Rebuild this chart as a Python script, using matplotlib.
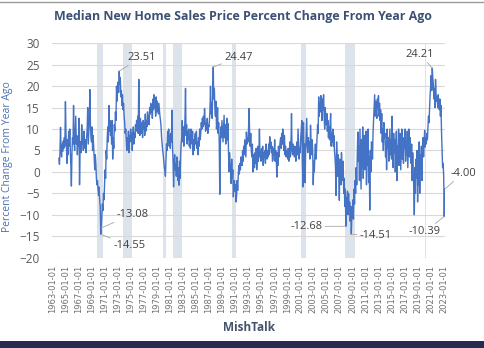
import numpy as np
import pandas as pd
import matplotlib
matplotlib.use('Agg')
import matplotlib.pyplot as plt

plt.rcParams['font.family'] = ['Open Sans', 'DejaVu Sans']

# monthly year-over-year % change, Jan 1964 .. Mar 2023
v1960s = [
    3.2, 1.8, 4.5, 10.4, 5.0, 3.5, 6.5, 4.8, 7.2, 5.5, 8.0, 6.0,
    16.4, 9.0, 5.5, 2.0, 7.5, 4.0, 9.5, 6.0, 10.0, 5.0, 1.5, -3.3,
    4.5, 8.0, 6.5, 15.5, 7.0, 5.0, 9.0, 13.0, 6.5, 8.5, 4.0, 7.5,
    6.0, 12.5, -3.0, 5.5, 7.0, 4.5, 11.0, 6.5, 8.0, 5.0, 9.5, 7.0,
    5.5, 7.5, 4.5, 8.0, 10.0, 15.0, 6.5, 9.0, 12.0, 19.2, 11.0, 8.0,
    7.0, 10.5, 5.0, 8.5, 6.0, 3.0, 0.5, 4.0, 2.0, -1.5, -3.0, -2.0,
]
v1970s = [
    -4.0, -5.5, -3.5, -6.5, -8.0, -14.55, -13.08, -10.0, -7.5, -9.0, -5.0, -6.5,
    -3.0, 0.5, -1.5, 5.0, 3.0, 8.0, 10.5, 7.0, 15.5, 9.5, 12.0, 8.5,
    10.0, 6.5, 12.0, 3.0, 8.0, 5.5, 11.0, 9.5, 14.0, 12.0, 20.0, 16.5,
    19.5, 21.0, 18.5, 23.51, 20.5, 22.0, 17.5, 19.0, 15.5, 18.0, 14.5, 16.0,
    13.0, 11.5, 9.0, 10.0, 7.5, 5.0, 8.0, 6.0, 9.5, 4.5, 8.5, 7.0,
    10.0, 7.5, 9.0, 5.0, 8.5, 10.5, 6.5, 9.0, 8.0, 11.0, 9.5, 12.0,
    10.5, 13.0, 9.0, 21.6, 11.0, 8.5, 12.5, 10.0, 9.0, 11.5, 8.0, 12.0,
    10.0, 11.5, 8.5, 13.5, 9.5, 12.0, 10.5, 14.0, 12.5, 13.0, 11.0, 15.0,
    13.5, 16.0, 14.0, 15.5, 12.5, 17.0, 14.5, 18.0, 15.0, 16.5, 13.0, 17.5,
    14.0, 16.5, 15.0, 13.5, 16.0, 14.5, 13.0, 12.0, 10.5, 8.0, 6.5, 5.0,
]
v1980s = [
    4.0, 2.5, 1.0, 0.5, -1.0, 3.0, 6.5, 5.0, 9.5, 7.0, 10.0, 6.0,
    8.5, 5.5, 9.0, 7.0, 14.4, 6.0, 3.0, -3.5, 1.5, 4.0, 0.5, 2.0,
    -1.0, 3.5, 0.5, -2.0, 1.0, -3.1, 2.5, -1.5, 4.0, 6.5, 8.0, 12.0,
    7.0, 10.5, 6.0, 9.0, 12.0, 19.5, 8.5, 11.0, 6.5, 9.5, 7.5, 10.0,
    6.0, 8.5, 5.5, 10.0, 7.0, 6.5, 9.5, 4.0, 7.5, 5.0, 8.0, 9.0,
    6.5, 9.5, 5.5, 7.0, 4.0, 8.0, 6.0, 10.0, 7.5, 9.0, 11.5, 10.0,
    12.5, 10.5, 13.0, 11.0, 14.8, 12.0, 9.5, 11.5, 10.0, 12.5, 9.0, 11.0,
    10.5, 12.0, 14.5, 20.0, 13.5, 16.0, 12.5, 18.0, 24.47, 17.0, 19.5, 15.0,
    13.0, 16.5, 10.0, 12.0, 15.0, 9.0, 11.5, 7.0, -5.2, 6.0, 10.5, 8.0,
    12.0, 9.5, 7.0, 10.5, 13.2, 8.0, 11.0, 6.5, 9.0, 12.5, 7.5, 11.3,
]
v1990s = [
    5.0, 0.0, 4.5, 2.0, 1.0, -2.7, 3.0, -1.5, 0.5, -5.8, -3.5, -2.0,
    -4.5, -3.0, -7.0, -5.5, -2.0, -4.3, -1.0, 1.5, -0.5, 2.0, 0.5, 3.5,
    3.0, 1.5, 5.0, 2.5, 6.0, 4.0, 7.5, 5.5, 3.5, 9.3, 6.5, 8.0,
    7.0, 10.5, 14.8, 8.5, 6.0, 9.0, 5.0, 3.5, 6.5, 0.0, 4.0, 2.5,
    1.0, 4.5, 2.0, 5.5, 0.5, 3.0, 6.0, 2.5, 4.0, 10.0, 3.5, 5.0,
    2.5, 5.5, 3.0, 6.0, 1.5, 4.5, 3.5, 5.0, 2.0, 6.5, 4.0, 3.0,
    5.0, 3.5, 6.5, 4.0, 8.2, 5.5, 7.0, 4.5, 6.0, 2.5, 3.0, 5.5,
    4.0, 7.5, 2.5, 5.0, 3.0, -1.2, 4.5, 1.5, 6.0, 3.5, 5.5, 7.0,
    8.0, 5.5, 9.0, 6.5, 10.0, 7.0, 5.0, 8.5, 4.0, 6.0, 3.5, 5.0,
    4.5, 3.0, 5.5, 2.5, 4.0, 7.0, 3.5, 6.0, 13.6, 5.0, 4.0, 6.5,
]
v2000s = [
    5.0, 3.5, 6.0, 4.5, 2.5, 5.5, 7.0, 4.0, 10.0, 6.5, 3.0, 5.5,
    4.5, 8.0, 10.0, 12.0, 3.0, -3.5, 11.5, 2.0, 6.5, -2.5, 5.0, 8.5,
    12.5, 6.0, 4.5, 8.0, 5.5, 7.0, 3.0, 10.9, 6.5, 4.0, 7.5, 5.0,
    -3.0, 2.5, 0.0, 4.0, 6.5, 3.0, 5.0, 8.0, 11.0, 9.0, 17.5, 13.0,
    16.0, 14.0, 17.8, 15.5, 12.0, 17.0, 14.5, 18.0, 13.0, 10.0, 15.0, 12.5,
    11.0, 13.6, 9.5, 12.0, 8.0, 10.5, 7.5, 11.0, 13.6, 6.0, 9.0, 7.0,
    10.0, 6.0, 8.5, 5.0, 3.5, 1.0, -5.5, 7.0, 2.0, -1.0, 4.0, 0.5,
    -6.6, 3.0, 1.0, -3.0, 4.5, 0.0, -2.0, 2.5, -5.0, -1.5, -8.0, -4.0,
    -12.68, -6.0, -8.5, -4.5, -10.0, -5.0, -9.0, -7.0, -11.5, -8.0, -14.51, -10.5,
    -9.0, -6.5, -11.0, -4.0, -7.5, -2.0, -5.0, 1.0, -3.0, 4.0, 9.3, 2.5,
]
v2010s = [
    6.0, -2.0, 10.0, 3.5, -4.0, 7.5, 1.0, 10.5, -1.5, 5.0, 8.5, 0.5,
    4.0, 9.5, -3.0, 6.0, 1.5, 10.0, -2.5, 3.5, -8.9, 5.0, 0.0, 7.0,
    6.5, 3.0, 9.0, 12.0, 15.0, 18.0, 13.0, 16.5, 14.0, 12.5, 17.0, 15.0,
    17.8, 13.0, 16.0, 12.0, 14.5, 9.0, 13.6, 7.0, 10.0, 5.0, 11.5, 8.0,
    9.0, 3.5, 7.0, 0.5, 10.0, 5.5, 8.0, 2.5, 6.5, 10.0, 4.0, 7.5,
    3.0, 13.0, 6.0, 1.0, 9.0, 4.5, 7.5, 0.0, 5.5, 9.5, -2.0, 6.0,
    3.5, 10.0, 1.5, 6.0, 9.0, 0.5, 5.0, 10.0, 3.0, 7.5, 2.0, 8.0,
    5.5, 10.0, 2.5, 7.0, 4.0, 9.5, 1.0, 6.0, 10.0, 3.5, 8.0, 5.0,
    2.0, 6.5, -2.0, 4.5, 0.0, -3.5, -10.0, 1.0, -5.0, 3.0, -1.5, 5.0,
    -7.0, 2.0, -3.0, 7.0, -5.0, 4.0, 0.5, 6.0, -2.0, 5.5, 8.0, 3.5,
]
v2020s = [
    7.0, 9.7, 5.8, 8.0, 6.5, 9.0, 7.5, 10.0, 13.0, 11.5, 15.0, 18.0,
    20.0, 22.5, 19.0, 24.21, 22.0, 20.5, 17.0, 19.5, 15.0, 21.6, 18.0, 16.5,
    17.5, 15.0, 18.0, 16.0, 14.5, 17.0, 13.0, 15.5, 9.5, 5.0, 1.0, 2.0,
    -1.0, -10.39, -4.00,
]

# NBER recessions (shaded)
rec_start = ['1969-12-01', '1973-11-01', '1980-01-01', '1981-07-01',
             '1990-07-01', '2001-03-01', '2007-12-01', '2020-02-01']
rec_end = ['1970-11-01', '1975-03-01', '1980-07-01', '1982-11-01',
           '1991-03-01', '2001-11-01', '2009-06-01', '2020-04-01']

# labelled points
ann_dates = ['1973-04-01', '1987-09-01', '1970-07-01', '1970-06-01', '2008-01-01',
             '2008-11-01', '2021-04-01', '2023-02-01', '2023-03-01']

values = v1960s + v1970s + v1980s + v1990s + v2000s + v2010s + v2020s
dates = pd.date_range('1964-01-01', periods=len(values), freq='MS')
s = pd.Series(values, index=dates)

fig = plt.figure(figsize=(4.85, 3.48), dpi=100)
ax = fig.add_axes([0.108, 0.2595, 0.809, 0.6161])

for a, b in zip(rec_start, rec_end):
    ax.axvspan(pd.Timestamp(a), pd.Timestamp(b), color='#dde3eb', lw=0, zorder=0)

ax.plot(s.index, s.values, color='#4472c4', lw=1.0, zorder=3)

ax.set_ylim(-20, 30)
ax.set_yticks(np.arange(-20, 31, 5))
ax.set_xlim(pd.Timestamp('1963-01-01'), pd.Timestamp('2023-03-01'))
xt = pd.date_range('1963-01-01', '2023-01-01', freq='2YS')
ax.set_xticks(xt)
ax.set_xticklabels([d.strftime('%Y-%m-%d') for d in xt], rotation=90,
                   fontsize=6, color='#707070', family='DejaVu Sans')
ax.tick_params(axis='x', length=0, pad=5)
ax.tick_params(axis='y', length=0, pad=9, labelsize=8.5, labelcolor='#595959')
ax.grid(axis='y', color='#d9d9d9', lw=0.8, zorder=1)
for sp in ax.spines.values():
    sp.set_visible(False)

ax.set_ylabel('Percent Change From Year Ago', fontsize=7.5, color='#4a72b0')
ax.yaxis.set_label_coords(-0.1, 0.47)
ax.set_xlabel('MishTalk', fontsize=8.5, color='#44546a', fontweight='bold', labelpad=6)
fig.text(0.5, 0.952, 'Median New Home Sales Price Percent Change From Year Ago',
         ha='center', va='center', fontsize=8.9, fontweight='bold', color='#3b5175')

offsets = [(6, 10), (8, 7), (11, 10), (9, -8), (-17, 0), (6, -1), (-9, 10), (-14, -11), (4, 11.5)]
aligns = ['left', 'left', 'left', 'left', 'right', 'left', 'center', 'center', 'left']
for d, off, ha in zip(ann_dates, offsets, aligns):
    t = pd.Timestamp(d)
    v = s[t]
    ax.annotate(f'{v:.2f}', (t, v), xytext=off, textcoords='offset points',
                ha=ha, va='center', fontsize=8, color='#404040', zorder=5,
                arrowprops=dict(arrowstyle='-', color='#a6a6a6', lw=0.6,
                                shrinkA=0, shrinkB=0))

# screenshot frame: thin grey line on top, dark bar at bottom
fig.add_artist(plt.Line2D([0, 1], [0.994, 0.994], color='#9a9a9a', lw=1))
fig.add_artist(plt.Rectangle((0, 0), 1, 0.02, color='#262a52', lw=0))

plt.savefig('out.png', dpi=100)
